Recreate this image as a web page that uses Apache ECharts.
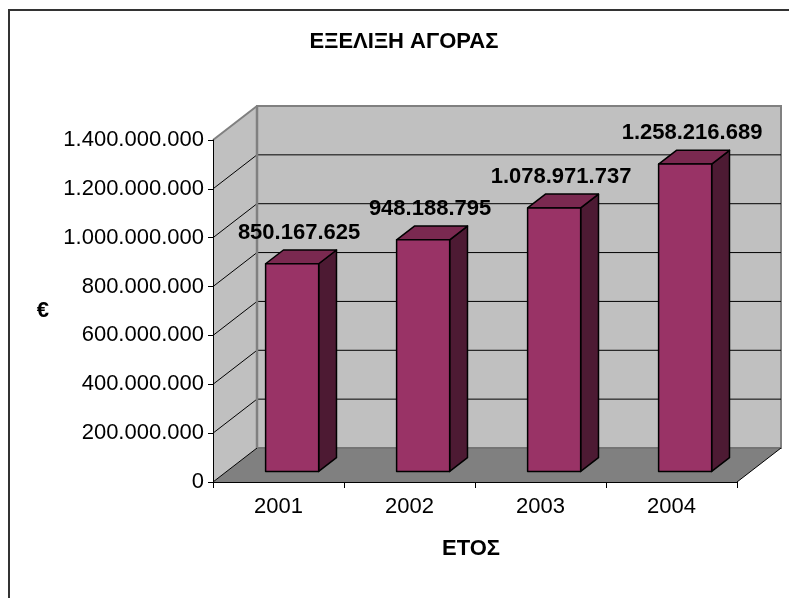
<!DOCTYPE html>
<html>
<head>
<meta charset="utf-8">
<script src="https://cdn.jsdelivr.net/npm/echarts@6/dist/echarts.min.js"></script>
<style>
  html, body { margin: 0; padding: 0; background: #ffffff; }
  #chart { width: 789px; height: 598px; }
</style>
</head>
<body>
<div id="chart"></div>
<script>
// Market size per year (euros)
const years = ['2001', '2002', '2003', '2004'];
const marketValues = [850167625, 948188795, 1078971737, 1258216689];
const valueTicks = [0, 200000000, 400000000, 600000000, 800000000, 1000000000, 1200000000, 1400000000];

const FONT = '"Liberation Sans", Arial, sans-serif';

// Depth of the pseudo-3D box (pixels the back plane is shifted by)
const DX = 44, DY = -34;
// Bars sit between these fractions of the depth
const BAR_FRONT = 0.31, BAR_DEPTH = 0.405;
const BAR_WIDTH = 0.405;

function dotted(n) {
  return String(Math.round(n)).replace(/\B(?=(\d{3})+(?!\d))/g, '.');
}

// Walls, floor and gridlines of the 3D frame
function renderFrame(params, api) {
  const cs = params.coordSys;
  const x0 = cs.x, x1 = cs.x + cs.width;
  const yBot = api.coord([0, valueTicks[0]])[1];
  const yTop = api.coord([0, valueTicks[valueTicks.length - 1]])[1];
  const children = [];
  // side wall
  children.push({
    type: 'polygon',
    shape: { points: [[x0, yTop], [x0 + DX, yTop + DY], [x0 + DX, yBot + DY], [x0, yBot]] },
    style: { fill: '#c0c0c0', stroke: null }
  });
  // back wall
  children.push({
    type: 'rect',
    shape: { x: x0 + DX, y: yTop + DY, width: x1 - x0, height: yBot - yTop },
    style: { fill: '#c0c0c0', stroke: '#808080', lineWidth: 2 }
  });
  // floor
  children.push({
    type: 'polygon',
    shape: { points: [[x0, yBot], [x1, yBot], [x1 + DX, yBot + DY], [x0 + DX, yBot + DY]] },
    style: { fill: '#808080', stroke: null }
  });
  // floor back edge
  children.push({
    type: 'line',
    shape: { x1: x0 + DX, y1: yBot + DY, x2: x1 + DX, y2: yBot + DY },
    style: { stroke: '#707070', lineWidth: 1.5 }
  });
  // floor right edge
  children.push({
    type: 'line',
    shape: { x1: x1, y1: yBot, x2: x1 + DX, y2: yBot + DY },
    style: { stroke: '#000', lineWidth: 1 }
  });
  valueTicks.forEach(function (v, k) {
    const y = api.coord([0, v])[1];
    const last = k === valueTicks.length - 1;
    if (k > 0 && !last) {
      children.push({
        type: 'line',
        shape: { x1: x0 + DX, y1: y + DY, x2: x1 + DX, y2: y + DY },
        style: { stroke: '#000', lineWidth: 1 }
      });
    }
    children.push({
      type: 'line',
      shape: { x1: x0, y1: y, x2: x0 + DX, y2: y + DY },
      style: { stroke: last ? '#808080' : '#000', lineWidth: last ? 2 : 1 }
    });
  });
  // back wall left edge
  children.push({
    type: 'line',
    shape: { x1: x0 + DX, y1: yTop + DY, x2: x0 + DX, y2: yBot + DY },
    style: { stroke: '#808080', lineWidth: 2.5 }
  });
  return { type: 'group', children: children };
}

// One 3D column with its value label
function renderColumn(params, api) {
  const i = api.value(0), v = api.value(1);
  const base = api.coord([i, 0]);
  const top = api.coord([i, v]);
  const band = api.size([1, 0])[0];
  const w = band * BAR_WIDTH;
  const fx = BAR_FRONT * DX, fy = BAR_FRONT * DY;
  const dx = BAR_DEPTH * DX, dy = BAR_DEPTH * DY;
  const xl = base[0] - w / 2 + fx, xr = xl + w;
  const yt = top[1] + fy, yb = base[1] + fy;
  const edge = { stroke: '#000', lineWidth: 1.5, lineJoin: 'round' };
  return {
    type: 'group',
    children: [
      {
        type: 'polygon',
        shape: { points: [[xr, yt], [xr + dx, yt + dy], [xr + dx, yb + dy], [xr, yb]] },
        style: Object.assign({ fill: '#4d1a33' }, edge)
      },
      {
        type: 'polygon',
        shape: { points: [[xl, yt], [xr, yt], [xr + dx, yt + dy], [xl + dx, yt + dy]] },
        style: Object.assign({ fill: '#7a2950' }, edge)
      },
      {
        type: 'rect',
        shape: { x: xl, y: yt, width: w, height: yb - yt },
        style: Object.assign({ fill: '#993366' }, edge)
      },
      {
        type: 'text',
        style: {
          text: dotted(v),
          x: (xl + xr + dx) / 2 - 2,
          y: yt - 31,
          align: 'center',
          verticalAlign: 'middle',
          font: 'bold 22px ' + FONT,
          fill: '#000'
        }
      }
    ]
  };
}

const chart = echarts.init(document.getElementById('chart'), null, { renderer: 'canvas' });

chart.setOption({
  backgroundColor: '#ffffff',
  animation: false,
  textStyle: { fontFamily: FONT },
  graphic: [
    {
      type: 'rect',
      shape: { x: 9, y: 10, width: 1000, height: 1000 },
      style: { fill: null, stroke: '#333333', lineWidth: 2 },
      z: 100
    },
    {
      type: 'text',
      x: 404,
      y: 42,
      style: {
        text: 'ΕΞΕΛΙΞΗ ΑΓΟΡΑΣ',
        align: 'center',
        verticalAlign: 'middle',
        font: 'bold 22px ' + FONT,
        fill: '#000'
      }
    }
  ],
  grid: { left: 213, right: 52, top: 140, bottom: 116, containLabel: false },
  xAxis: {
    type: 'category',
    data: years,
    z: 10,
    axisLine: { show: true, lineStyle: { color: '#000', width: 1 } },
    axisTick: { show: true, length: 6, lineStyle: { color: '#000' } },
    axisLabel: { fontSize: 22, color: '#000', margin: 14, fontFamily: FONT },
    splitLine: { show: false },
    name: 'ΕΤΟΣ',
    nameLocation: 'middle',
    nameGap: 56,
    nameTextStyle: { fontSize: 22, fontWeight: 'bold', color: '#000', fontFamily: FONT, padding: [0, 8, 0, 0] }
  },
  yAxis: {
    type: 'value',
    min: valueTicks[0],
    max: valueTicks[valueTicks.length - 1],
    interval: valueTicks[1] - valueTicks[0],
    z: 10,
    axisLine: { show: true, lineStyle: { color: '#000', width: 1 } },
    axisTick: { show: true, length: 5, lineStyle: { color: '#000' } },
    axisLabel: { fontSize: 22, color: '#000', margin: 9, fontFamily: FONT, formatter: dotted },
    splitLine: { show: false },
    name: '€',
    nameLocation: 'middle',
    nameRotate: 0,
    nameGap: 164,
    nameTextStyle: { fontSize: 22, fontWeight: 'bold', color: '#000', fontFamily: FONT }
  },
  series: [
    {
      type: 'custom',
      name: 'frame',
      coordinateSystem: 'cartesian2d',
      clip: false,
      silent: true,
      z: 1,
      data: [[0, 0]],
      renderItem: renderFrame
    },
    {
      type: 'custom',
      name: 'market',
      coordinateSystem: 'cartesian2d',
      clip: false,
      z: 3,
      data: marketValues.map(function (v, i) { return [i, v]; }),
      renderItem: renderColumn
    }
  ]
});
</script>
</body>
</html>
